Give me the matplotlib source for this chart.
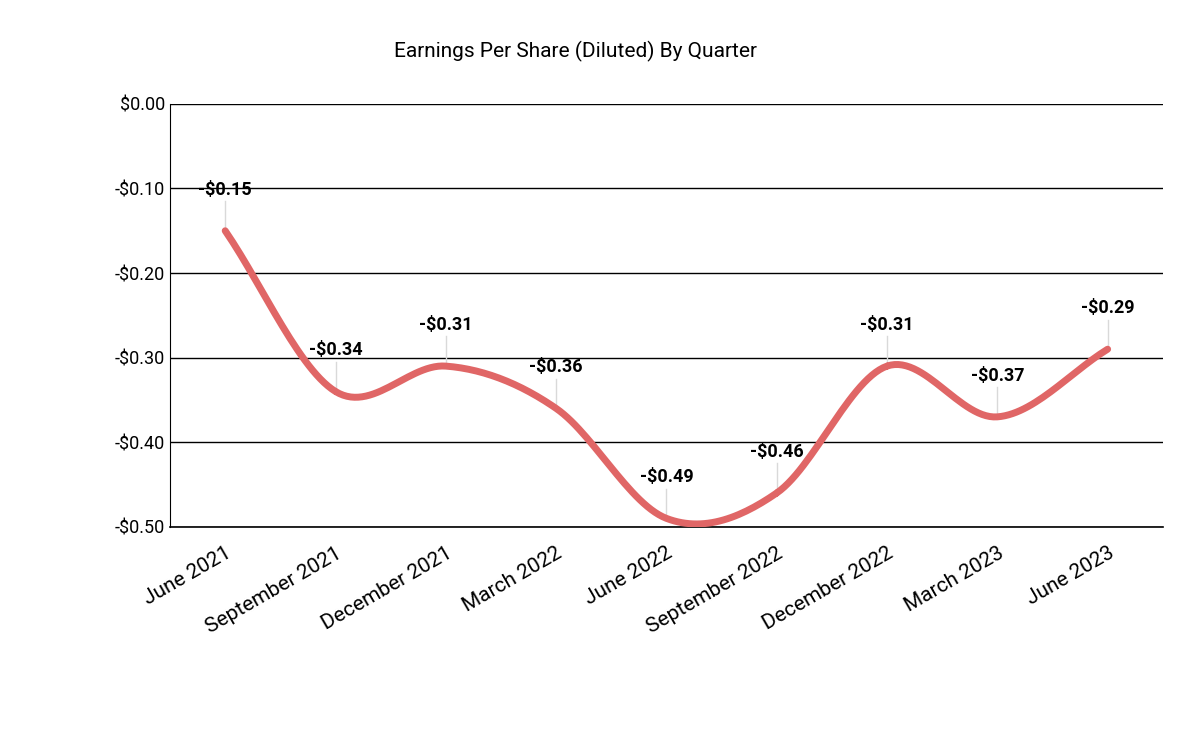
import numpy as np
import matplotlib.pyplot as plt

plt.rcParams['font.family'] = 'Roboto'

quarters = ["June 2021", "September 2021", "December 2021", "March 2022", "June 2022",
            "September 2022", "December 2022", "March 2023", "June 2023"]
eps = [-0.15, -0.34, -0.31, -0.36, -0.49, -0.46, -0.31, -0.37, -0.29]
labels = ["-$0.15", "-$0.34", "-$0.31", "-$0.36", "-$0.49", "-$0.46", "-$0.31", "-$0.37", "-$0.29"]

# catmull-rom smoothing between the points
x = np.arange(len(eps), dtype=float)
y = np.array(eps)
px = np.concatenate([[2 * x[0] - x[1]], x, [2 * x[-1] - x[-2]]])
py = np.concatenate([[2 * y[0] - y[1]], y, [2 * y[-1] - y[-2]]])
xs, ys = [], []
t = np.linspace(0, 1, 30)
for i in range(1, len(px) - 2):
    p0, p1, p2, p3 = py[i - 1], py[i], py[i + 1], py[i + 2]
    ys.append(0.5 * (2 * p1 + (-p0 + p2) * t + (2 * p0 - 5 * p1 + 4 * p2 - p3) * t ** 2
                     + (-p0 + 3 * p1 - 3 * p2 + p3) * t ** 3))
    xs.append(px[i] + t)
xs = np.concatenate(xs)
ys = np.concatenate(ys)

fig = plt.figure(figsize=(12, 7.42), dpi=100)
ax = fig.add_axes([0.1417, 0.29, 0.8273, 0.57])
ax.set_xlim(-0.5, len(eps) - 0.5)
ax.set_ylim(-0.5, 0.0)
ax.set_yticks([0, -0.1, -0.2, -0.3, -0.4, -0.5])
ax.set_yticklabels(["$0.00", "-$0.10", "-$0.20", "-$0.30", "-$0.40", "-$0.50"], fontsize=13)
ax.yaxis.grid(True, color='black', linewidth=1)
ax.axhline(-0.5, color='black', linewidth=1.2, clip_on=False, zorder=1)
ax.set_axisbelow(True)
for s in ['top', 'right', 'bottom']:
    ax.spines[s].set_visible(False)
ax.tick_params(length=0)

ax.plot(xs, ys, color='#e06666', linewidth=5, solid_capstyle='round', zorder=3)

for i, v in enumerate(eps):
    ax.plot([i, i], [v + 0.005, v + 0.035], color='#d9d9d9', linewidth=1, zorder=2)
    ax.text(i, v + 0.038, labels[i], ha='center', va='bottom', fontsize=13,
            fontweight='bold', zorder=4)

ax.set_xticks(x)
ax.set_xticklabels(quarters, rotation=30, ha='right', rotation_mode='anchor', fontsize=15)
ax.tick_params(axis='x', pad=12)

fig.text(0.48, 0.93, "Earnings Per Share (Diluted) By Quarter", ha='center', va='center', fontsize=15)

fig.savefig("out.png")
